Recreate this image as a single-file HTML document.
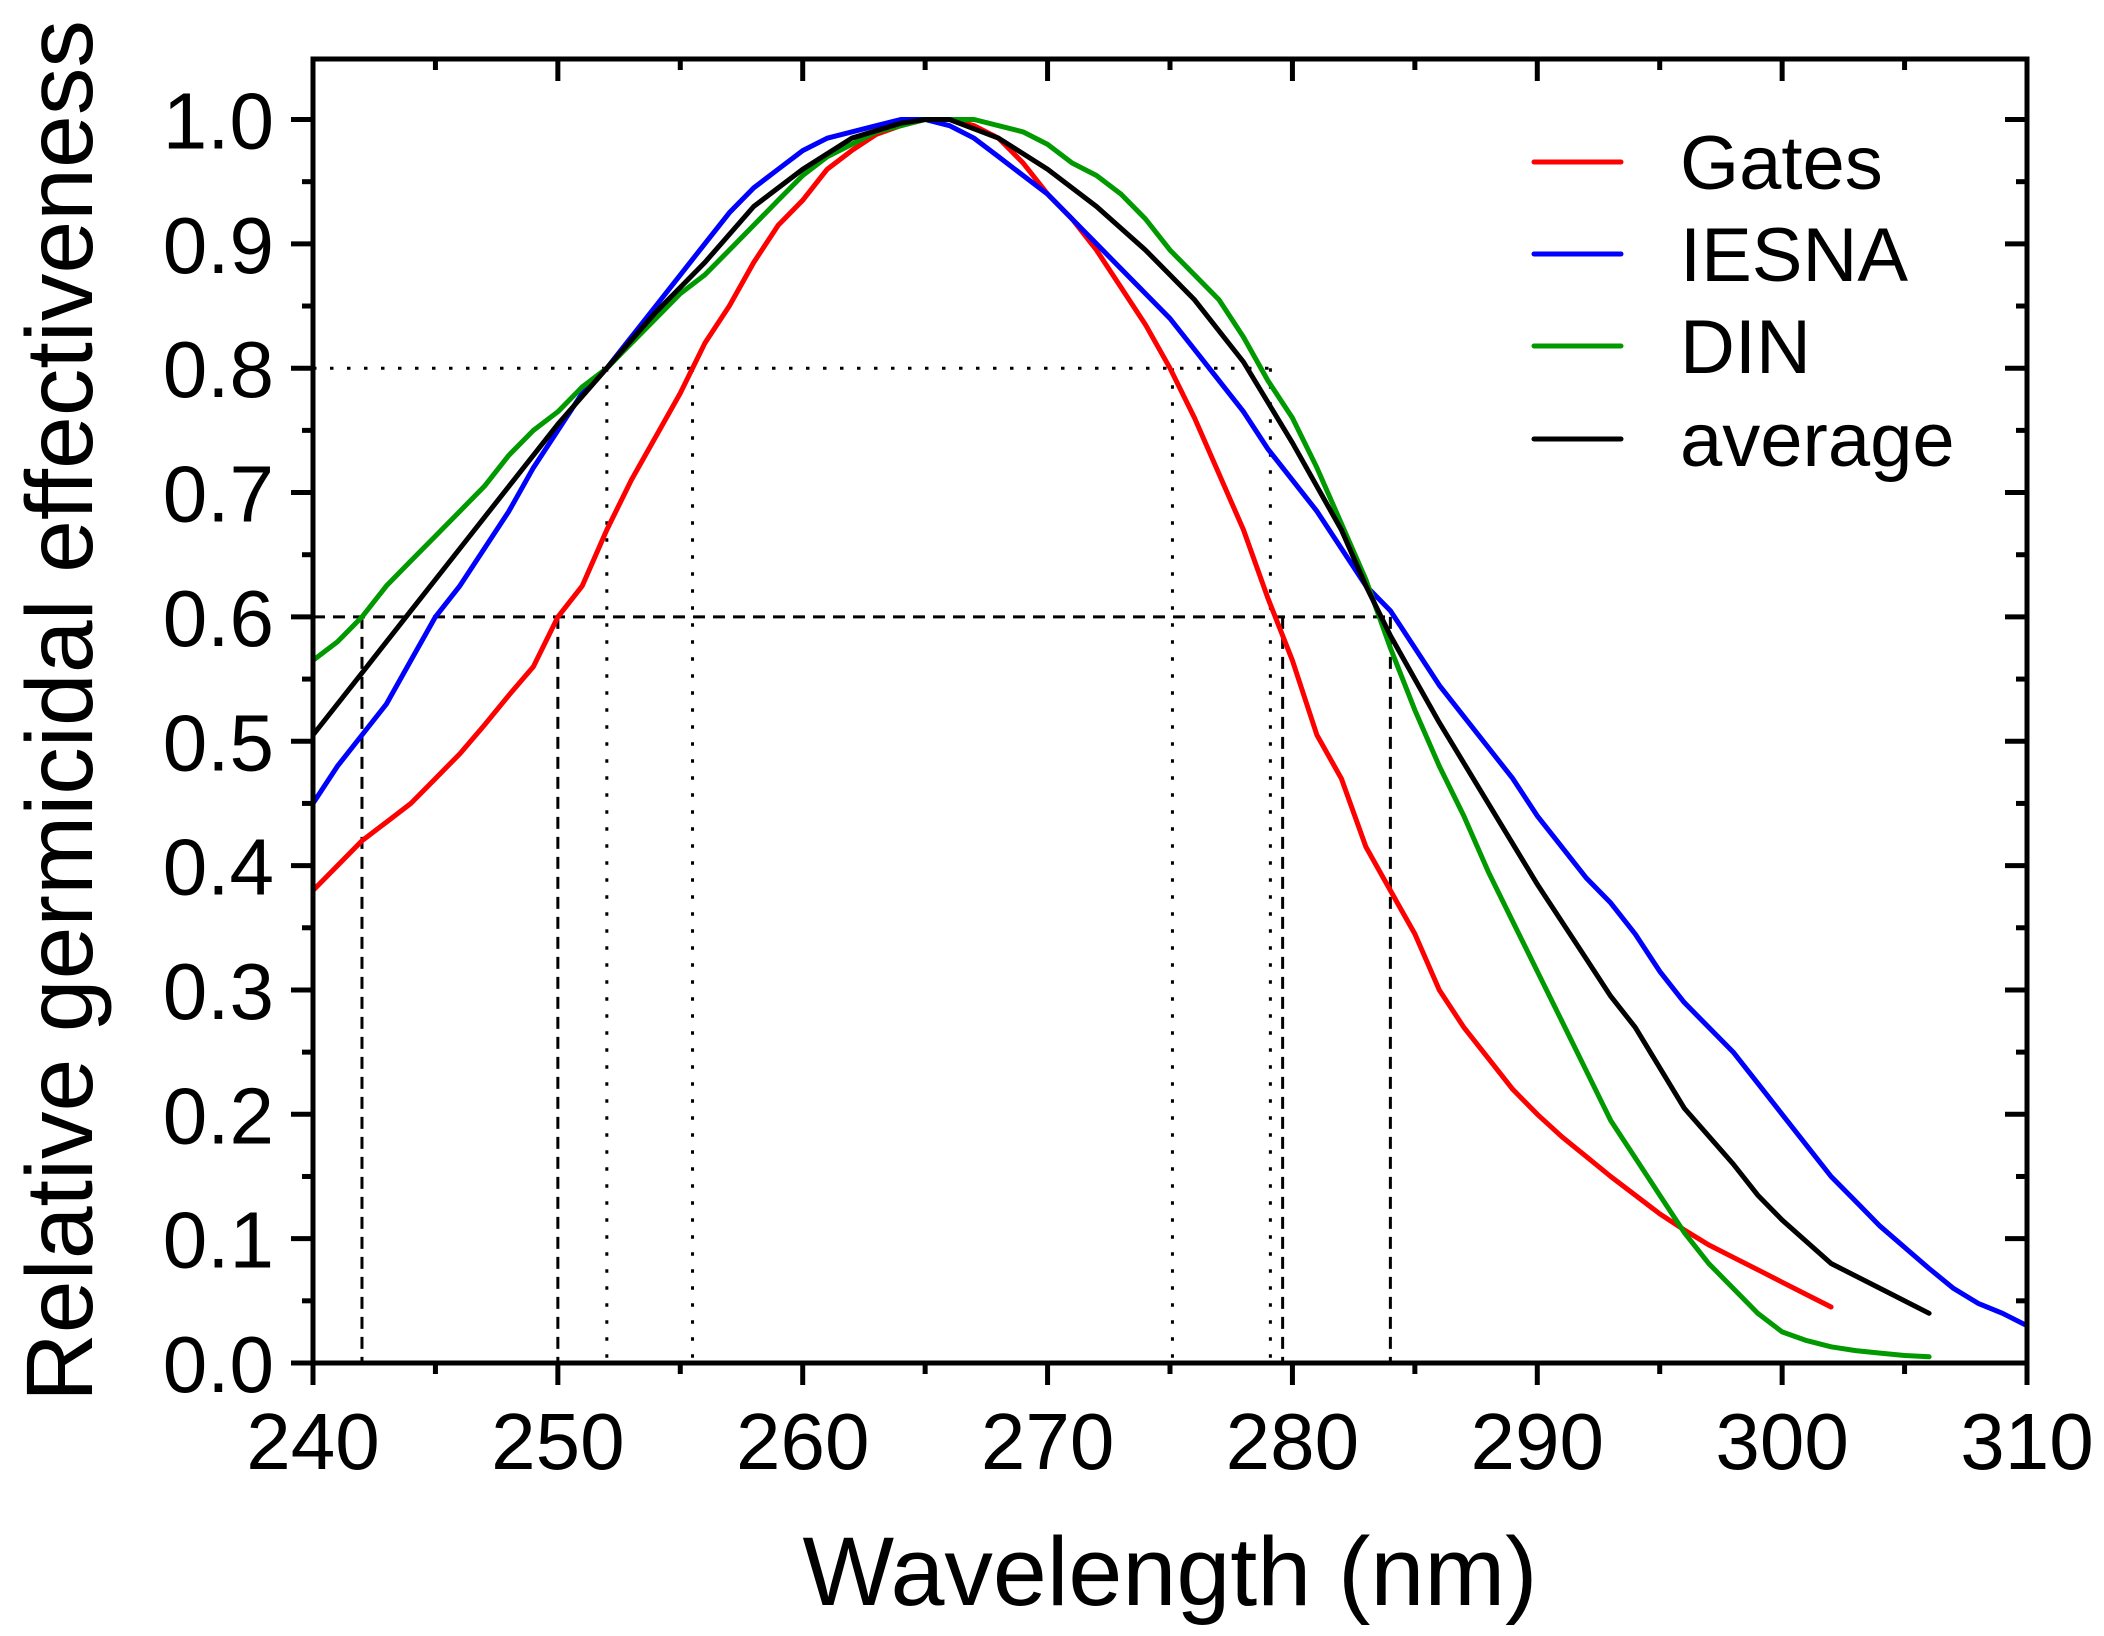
<!DOCTYPE html>
<html><head><meta charset="utf-8"><style>
html,body{margin:0;padding:0;background:#fff;}
svg{display:block;font-family:"Liberation Sans",Arial,sans-serif;}
</style></head><body>
<svg id="s" width="2104" height="1636" viewBox="0 0 2104 1636" xmlns="http://www.w3.org/2000/svg">
<rect width="2104" height="1636" fill="#fff"/>
<g id="ref" fill="none" stroke="#000" stroke-width="3"></g>
<g id="series" fill="none" stroke-width="5" stroke-linejoin="round" stroke-linecap="round"></g>
<g id="axes" stroke="#000" stroke-width="5" fill="none"></g>
<g id="labels" font-size="80" fill="#000"></g>
<text x="1170" y="1605" font-size="97" text-anchor="middle">Wavelength (nm)</text>
<text transform="translate(92,711) rotate(-90)" font-size="95" text-anchor="middle">Relative germicidal effectiveness</text>
<g stroke-width="5" stroke-linecap="round">
<line x1="1534" y1="162" x2="1621" y2="162" stroke="#f00"/>
<line x1="1534" y1="254" x2="1621" y2="254" stroke="#00f"/>
<line x1="1534" y1="346" x2="1621" y2="346" stroke="#009900"/>
<line x1="1534" y1="439" x2="1621" y2="439" stroke="#000"/>
</g>
<g font-size="76" fill="#000">
<text x="1680" y="189">Gates</text>
<text x="1680" y="281">IESNA</text>
<text x="1680" y="373">DIN</text>
<text x="1680" y="466">average</text>
</g>
</svg>
<script>
const X0=313,X1=2027,Y0=1363,Y1=119.5;
const px=x=>X0+(x-240)*(X1-X0)/70, py=y=>Y0-(y)*(Y0-Y1);
const NS="http://www.w3.org/2000/svg";
function el(p,t,a){const e=document.createElementNS(NS,t);for(const k in a)e.setAttribute(k,a[k]);p.appendChild(e);return e;}
const ax=document.getElementById('axes'),lb=document.getElementById('labels'),rf=document.getElementById('ref'),sr=document.getElementById('series');
const dot={"stroke-dasharray":"3.5 13.5"},dash={"stroke-dasharray":"12 8"};
el(rf,'line',Object.assign({x1:X0,y1:py(.8),x2:px(279.1),y2:py(.8)},dot));
[252,255.5,275.1,279.1].forEach(x=>el(rf,'line',Object.assign({x1:px(x),y1:py(.8),x2:px(x),y2:Y0},dot)));
el(rf,'line',Object.assign({x1:X0,y1:py(.6),x2:px(284),y2:py(.6)},dash));
[242,250,279.6,284].forEach(x=>el(rf,'line',Object.assign({x1:px(x),y1:py(.6),x2:px(x),y2:Y0},dash)));
function mk(o){const ks=Object.keys(o).map(Number).sort((a,b)=>a-b);return ks.map(k=>[k,o[k]]);}
const gates=[.38,.40,.42,.435,.45,.47,.49,.513,.537,.56,.60,.625,.67,.71,.745,.78,.82,.85,.885,.915,.935,.96,.975,.988,.995,1,1,.995,.985,.965,.94,.92,.895,.865,.835,.80,.76,.715,.67,.615,.565,.505,.47,.415,.38,.345,.30,.27,.245,.22,.2,.182,.166,.15,.135,.12,.107,.095,.085,.075,.065,.055,.045];
const iesna=[.45,.48,.505,.53,.565,.60,.625,.655,.685,.72,.75,.78,.80,.825,.85,.875,.9,.925,.945,.96,.975,.985,.99,.995,1,1,.995,.985,.97,.955,.94,.92,.9,.88,.86,.84,.815,.79,.765,.735,.71,.685,.655,.625,.605,.575,.545,.52,.495,.47,.44,.415,.39,.37,.345,.315,.29,.27,.25,.225,.2,.175,.15,.13,.11,.093,.076,.06,.048,.04,.03];
const din=[.565,.58,.60,.625,.645,.665,.685,.705,.73,.75,.765,.785,.80,.82,.84,.86,.875,.895,.915,.935,.955,.97,.98,.99,.995,1,1,1,.995,.99,.98,.965,.955,.94,.92,.895,.875,.855,.825,.79,.76,.72,.675,.63,.575,.525,.48,.44,.395,.355,.315,.275,.235,.195,.165,.135,.105,.08,.06,.04,.025,.018,.013,.01,.008,.006,.005];
const avg=mk({240:.505,242:.555,244:.605,246:.655,248:.705,250:.755,252:.80,254:.845,256:.885,258:.93,260:.96,262:.985,264:.997,265:1,266:1,268:.985,270:.96,272:.93,274:.895,276:.855,278:.805,280:.74,282:.67,283:.625,284:.585,286:.515,288:.45,290:.385,292:.325,293:.295,294:.27,296:.205,298:.16,299:.135,300:.115,302:.08,304:.06,306:.04});
const arr=a=>a.map((v,i)=>[240+i,v]);
function path(pts,c){el(sr,'path',{d:pts.map((p,i)=>(i?'L':'M')+px(p[0]).toFixed(1)+' '+py(p[1]).toFixed(1)).join(''),stroke:c});}
path(arr(gates),'#f00');path(arr(iesna),'#00f');path(arr(din),'#009900');path(avg,'#000');
el(ax,'rect',{x:X0,y:59,width:X1-X0,height:Y0-59});
for(let i=0;i<=20;i++){const y=py(i*0.05),L=i%2?11:22;
 el(ax,'line',{x1:X0,y1:y,x2:X0-L,y2:y});el(ax,'line',{x1:X1,y1:y,x2:X1-L,y2:y});
 if(i%2==0){el(lb,'text',{x:274,y:y+29,'text-anchor':'end'}).textContent=(i*0.05).toFixed(1);}}
for(let i=0;i<=14;i++){const x=px(240+i*5),L=i%2?11:22;
 el(ax,'line',{x1:x,y1:Y0,x2:x,y2:Y0+L});el(ax,'line',{x1:x,y1:59,x2:x,y2:59+L});
 if(i%2==0){el(lb,'text',{x:x,y:1469,'text-anchor':'middle'}).textContent=240+i*5;}}
</script>
</body></html>
